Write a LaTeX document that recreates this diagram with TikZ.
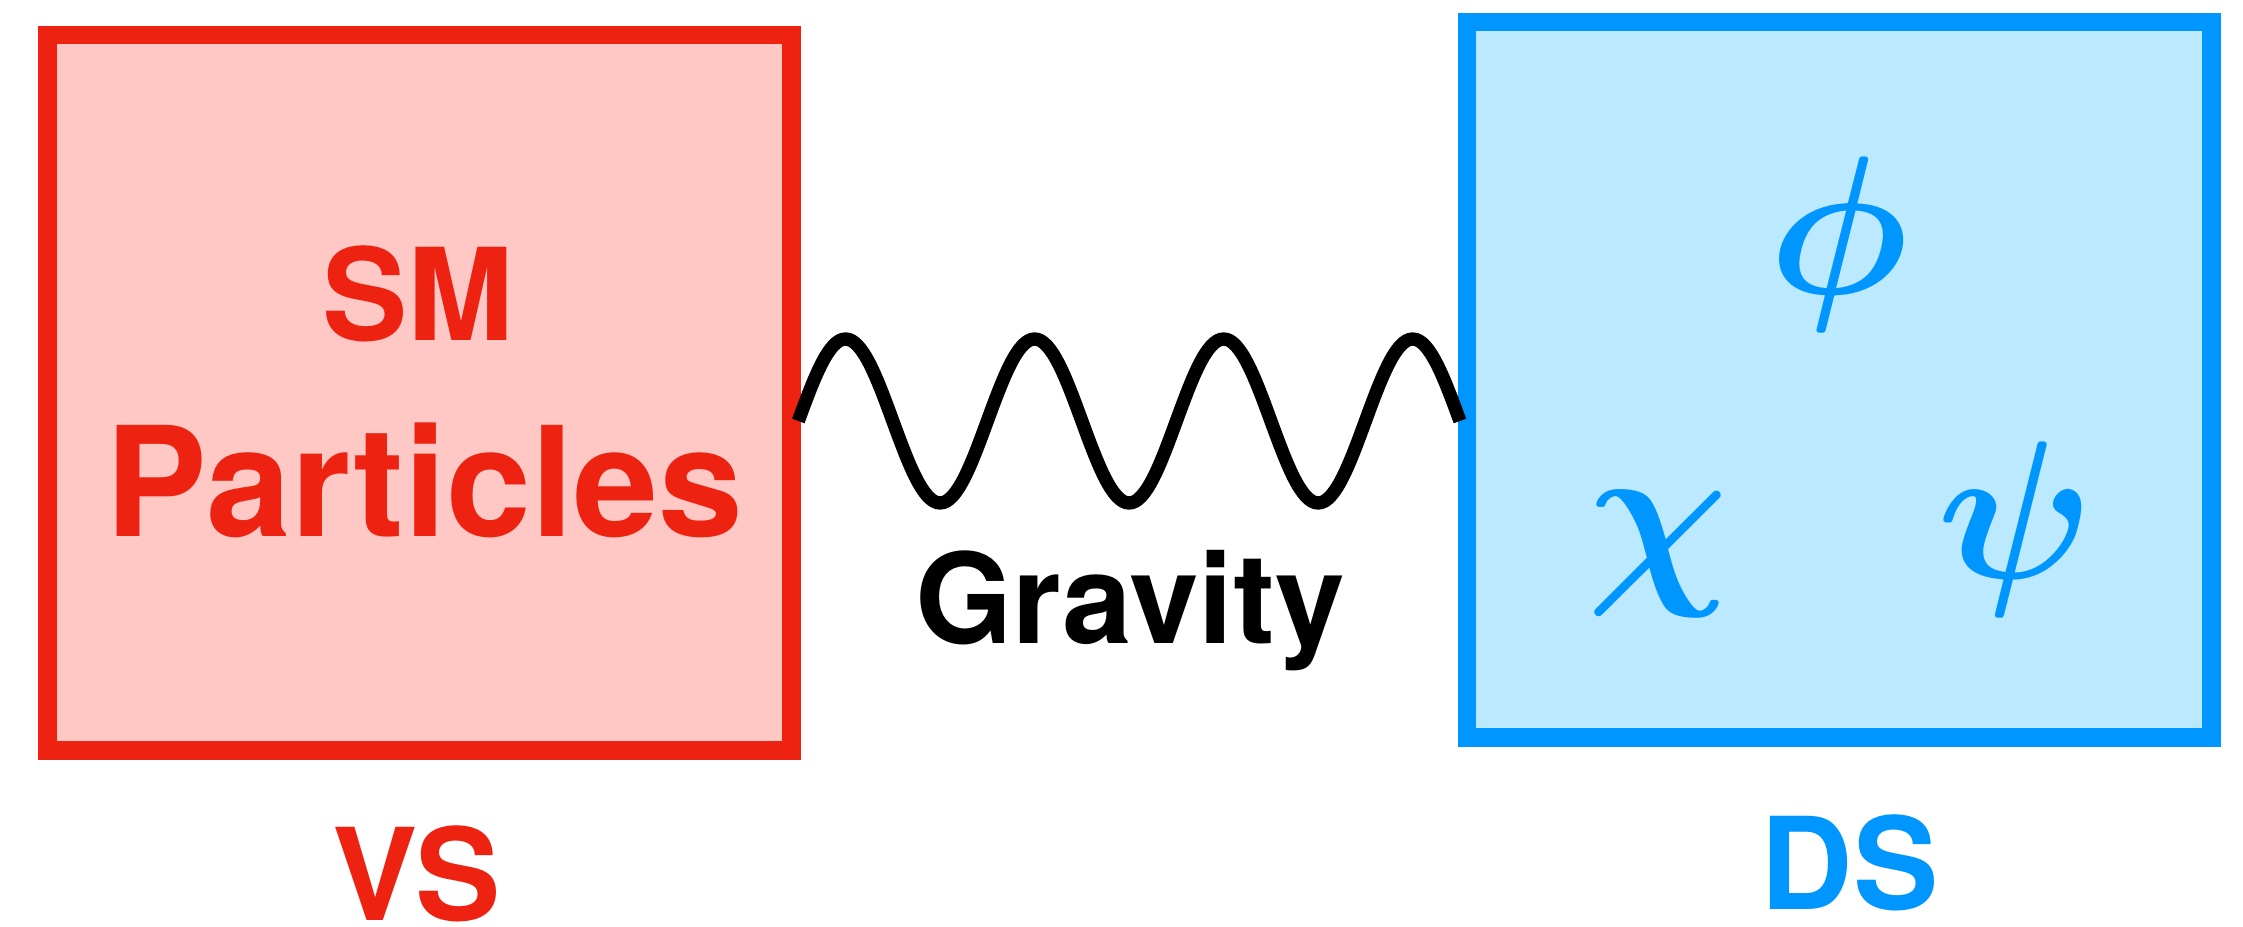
\documentclass[tikz,border=0pt]{standalone}
\usepackage{fontspec}
\setmainfont{TeX Gyre Heros}
\usepackage{amsmath}
\usepackage{amsbsy}
\usepackage{tikz}
\definecolor{vsred}{RGB}{238,34,17}
\definecolor{vspink}{RGB}{255,200,197}
\definecolor{dsblue}{RGB}{0,150,255}
\definecolor{dslight}{RGB}{187,233,255}
\newcommand{\bigfield}[1]{\scalebox{5.6}{$\boldsymbol{#1}$}}

\begin{document}
\begin{tikzpicture}[
        sector/.style={draw, line width=0.185cm, minimum width=7.444cm, minimum height=7.153cm, inner sep=0pt},
        word/.style={font=\bfseries\fontsize{36.4}{40}\selectfont, anchor=base, inner sep=0pt},
        field/.style={text=dsblue, anchor=base, inner sep=0pt}]
        \useasboundingbox (0,0) rectangle (22.43,-9.27);
        \node[sector, draw=vsred, fill=vspink] (vs) at (4.195,-3.929) {};
        \node[sector, draw=dsblue, fill=dslight] (ds) at (18.393,-3.796) {};
        \node[word, text=vsred] (sm) at (4.18,-3.406) {SM};
        \node[word, text=vsred, font=\bfseries\fontsize{43.4}{46}\selectfont] (part) at (4.243,-5.36) {Particles};
        \node[word, text=vsred] (vslab) at (4.17,-9.20) {VS};
        \node[word, text=dsblue] (dslab) at (18.495,-9.09) {DS};
        \node[field] (phi) at (18.39,-2.94) {\bigfield{\phi}};
        \node[field] (chi) at (16.58,-5.78) {\bigfield{\chi}};
        \node[field] (psi) at (20.16,-5.78) {\bigfield{\psi}};
        \coordinate (gw) at (7.983,-4.21);
        \draw[line width=0.133cm] (gw) \foreach \k in {1,2,3} {sin ++(0.4726,0.82) cos ++(0.4726,-0.82) sin ++(0.4726,-0.82) cos ++(0.4726,0.82)} sin ++(0.4726,0.82) cos ++(0.4726,-0.82);
        \node[word, font=\bfseries\fontsize{35.6}{40}\selectfont] (grav) at (11.30,-6.43) {Gravity};
    \end{tikzpicture}
\end{document}
